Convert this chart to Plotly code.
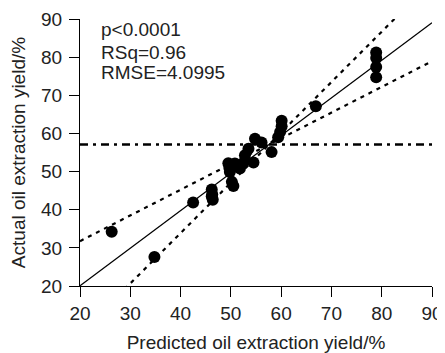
import numpy as np
import plotly.graph_objects as go

# Data
predicted = [26.3, 34.8, 42.5, 46.2, 46.3, 46.4, 46.2, 49.5, 49.8, 50.2, 50.5, 50.8, 49.7, 51.8,
             52.4, 52.8, 53.5, 54.5, 54.8, 56.1, 58.1, 59.4, 59.8, 60.1, 60.1, 66.9,
             78.9, 78.9, 78.9, 78.9]
actual = [34.2, 27.6, 41.9, 45.3, 44.0, 42.6, 43.5, 52.2, 49.9, 47.3, 46.2, 52.1, 51.0, 50.8,
          52.2, 54.3, 56.0, 52.4, 58.6, 57.6, 55.1, 59.0, 60.4, 61.9, 63.3, 67.1,
          81.2, 79.8, 77.4, 74.7]

mean_pred = 57.6
mean_actual = 57.1
fit_slope = 0.985
conf_slopes = [0.674, 1.32]
axis_range = [20, 90]
ticks = [20, 30, 40, 50, 60, 70, 80, 90]
stats_text = ["p<0.0001", "RSq=0.96", "RMSE=4.0995"]

xs = np.array(axis_range, dtype=float)
FONT = "Liberation Sans, Arial, sans-serif"
TXT = "#222"

fig = go.Figure()

fig.add_trace(go.Scatter(x=xs, y=[mean_actual, mean_actual], mode="lines",
                         line=dict(color="black", width=2.5, dash="8px,5px,3px,5px"),
                         showlegend=False, hoverinfo="skip"))
for s in conf_slopes:
    fig.add_trace(go.Scatter(x=xs, y=mean_actual + s * (xs - mean_pred), mode="lines",
                             line=dict(color="black", width=2.2, dash="4px,5px"),
                             showlegend=False, hoverinfo="skip"))
fig.add_trace(go.Scatter(x=xs, y=mean_actual + fit_slope * (xs - mean_pred), mode="lines",
                         line=dict(color="black", width=1.3),
                         showlegend=False, hoverinfo="skip"))
fig.add_trace(go.Scatter(x=predicted, y=actual, mode="markers",
                         marker=dict(color="black", size=12, symbol="circle"),
                         showlegend=False))

row_y = [0.959, 0.876, 0.801]
for t, yy in zip(stats_text, row_y):
    fig.add_annotation(x=0.058, y=yy, xref="paper", yref="paper", xanchor="left",
                       yanchor="middle", text=t, showarrow=False, align="left",
                       borderpad=0, font=dict(family=FONT, size=19, color=TXT))

axis_common = dict(range=axis_range, tickvals=ticks, showline=True, linecolor="black",
                   linewidth=1.2, ticks="outside", ticklen=10, tickwidth=1.2, tickcolor="black",
                   showgrid=False, zeroline=False, mirror=False, automargin=False,
                   ticklabeloverflow="allow",
                   tickfont=dict(family=FONT, size=19, color=TXT))

fig.update_xaxes(**axis_common,
                 title=dict(text="Predicted oil extraction yield/%", standoff=12,
                            font=dict(family=FONT, size=19, color=TXT)))
fig.update_yaxes(**axis_common, ticklabelstandoff=3,
                 title=dict(text="Actual oil extraction yield/%", standoff=12,
                            font=dict(family=FONT, size=19, color=TXT)))

# page body has an 8px default margin, so the figure is sized/positioned to compensate
fig.update_layout(width=437, height=345, margin=dict(l=72, r=13, t=11, b=67),
                  plot_bgcolor="white", paper_bgcolor="white")

fig.write_html("out.html")
